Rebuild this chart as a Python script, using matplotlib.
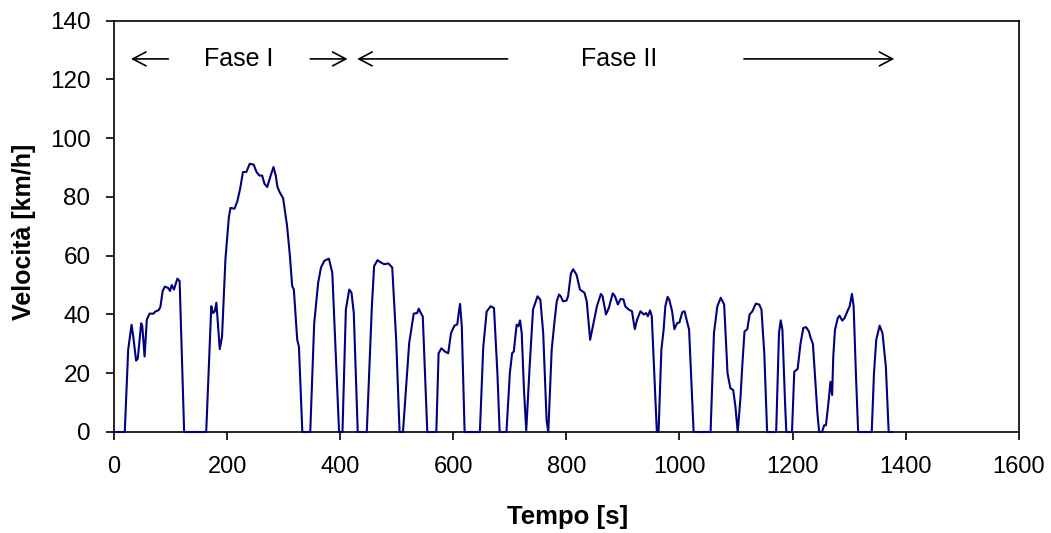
import matplotlib

matplotlib.use("Agg")
import matplotlib.pyplot as plt

# speed profile (time [s], speed [km/h])
tempo = [
    0, 19, 25, 31, 34, 39, 42, 48, 50, 54, 58, 63, 70, 73, 79, 82, 86, 90, 96, 99,
    102, 106, 112, 116, 124, 163, 172, 175, 178, 181, 187, 191, 197, 203, 206, 213,
    218, 223, 228, 234, 240, 247, 252, 257, 262, 266, 271, 277, 282, 286, 289, 293,
    299, 306, 311, 315, 318, 324, 327, 333, 347, 354, 361, 366, 372, 380, 386, 398,
    404, 410, 416, 420, 424, 431, 447, 456, 460, 466, 472, 478, 485, 492, 499, 505,
    511, 517, 522, 530, 536, 539, 543, 546, 554, 570, 574, 579, 585, 591, 596, 602,
    607, 610, 612, 615, 620, 647, 653, 659, 666, 672, 678, 682, 694, 700, 704, 707,
    712, 715, 718, 721, 725, 729, 735, 741, 749, 754, 759, 765, 768, 774, 779, 783,
    787, 790, 794, 800, 803, 808, 812, 818, 824, 832, 836, 842, 848, 854, 861, 864,
    870, 875, 882, 886, 891, 896, 901, 904, 910, 916, 921, 925, 931, 937, 941, 944,
    948, 951, 960, 963, 968, 972, 975, 979, 982, 987, 991, 996, 1000, 1005, 1009,
    1014, 1017, 1025, 1055, 1061, 1067, 1073, 1079, 1085, 1090, 1095, 1099, 1103,
    1108, 1111, 1115, 1120, 1124, 1129, 1135, 1141, 1145, 1150, 1155, 1171, 1176,
    1179, 1182, 1187, 1189, 1199, 1203, 1209, 1214, 1219, 1224, 1229, 1232, 1236,
    1244, 1247, 1252, 1256, 1259, 1264, 1267, 1270, 1272, 1275, 1280, 1283, 1288,
    1292, 1297, 1301, 1305, 1308, 1312, 1316, 1340, 1344, 1348, 1354, 1359, 1365,
    1370, 1376,
]
velocita = [
    0, 0, 28, 36.5, 32.5, 24.3, 25, 37, 36, 25.7, 38.3, 40.3, 40.3, 41, 41.5, 42.6,
    48, 49.5, 49, 48, 50, 48.5, 52.2, 51.4, 0, 0, 42.8, 40.5, 41, 44, 28.2, 32.5,
    58.8, 73, 76.3, 76, 78.5, 82.8, 88.5, 88.5, 91.3, 91, 88.5, 87.3, 87.3, 84.5,
    83.4, 87.3, 90.2, 87.3, 83.4, 81.6, 79.6, 70.2, 60, 49.7, 48.5, 31.4, 29, 0, 0,
    37, 50.8, 56, 58.3, 59, 54.2, 0, 0, 41.7, 48.5, 47.4, 40.5, 0, 0, 42.8, 56.5,
    58.5, 57.7, 57.1, 57.4, 56, 31.4, 0, 0, 16.6, 30.3, 40.3, 40.5, 42, 40.3, 39.4,
    0, 0, 26.8, 28.5, 27.4, 26.8, 33.7, 36.2, 36.6, 41.2, 43.6, 36, 0, 0, 29, 41,
    42.8, 42.2, 20, 0, 0, 20, 26.8, 27.4, 36.5, 36, 38, 33.7, 14.3, 0.5, 22.3, 41.7,
    46.2, 45, 33.7, 4, 0, 28, 37.7, 44.5, 46.8, 46.2, 44.5, 44.7, 46.2, 54, 55.4,
    53.5, 48.5, 47.4, 44.5, 31.4, 37.1, 42.8, 47, 46.2, 40, 42.2, 47.2, 46.2, 43.4,
    45.3, 45.1, 42.8, 41.7, 41.1, 35, 38.2, 41.1, 40, 40.5, 39.4, 41.4, 39.4, 0, 0,
    28, 34.9, 42.8, 46, 45, 41.1, 35, 37.1, 37.3, 40.8, 41.1, 37.1, 34.9, 0, 0,
    33.7, 42.8, 45.7, 43.4, 20, 14.9, 14.3, 8.6, 0, 12, 22.3, 34.2, 35, 40, 41.1,
    43.7, 43.4, 41.7, 26.8, 0, 0, 33.7, 38, 34.9, 8.6, 0, 0, 20.5, 21.5, 30, 35.4,
    35.7, 34.2, 32, 30, 6.3, 0, 0, 2.3, 2.3, 10.9, 17.1, 12.6, 25.7, 34.8, 38.8,
    39.6, 37.9, 38.8, 41.1, 42.8, 47, 42.8, 20, 0, 0, 20, 31.4, 36.2, 33.7, 22.3,
    0, 0,
]

plt.rcParams["font.family"] = ["Liberation Sans", "DejaVu Sans"]

fig = plt.figure(figsize=(10.51, 5.33), dpi=100)
ax = fig.add_axes([0.1085, 0.1895, 0.8608, 0.7716])

ax.plot(tempo, velocita, color="#000080", lw=1.5, zorder=3, clip_on=False)

ax.set_xlim(0, 1600)
ax.set_ylim(0, 140)
ax.set_xticks(range(0, 1601, 200))
ax.set_yticks(range(0, 141, 20))
ax.tick_params(axis="x", direction="out", length=6, width=1.2, pad=11, labelsize=17)
ax.tick_params(axis="y", direction="out", length=6, width=1.2, pad=11, labelsize=17.5)
for s in ax.spines.values():
    s.set_linewidth(1.2)
    s.set_color("black")

fig.text(568 / 1051, 1 - 517 / 533, "Tempo [s]", ha="center", va="center",
         fontsize=18.5, fontweight="bold")
fig.text(24 / 1051, 1 - 232 / 533, "Velocità [km/h]", ha="center", va="center",
         rotation=90, fontsize=18, fontweight="bold")

# phase markers
arrow = dict(arrowstyle="->,head_length=0.95,head_width=0.5", color="black", lw=1.2,
             shrinkA=0, shrinkB=0)
ax.annotate("", xy=(30, 127), xytext=(96, 127), arrowprops=arrow)
ax.annotate("", xy=(413, 127), xytext=(347, 127), arrowprops=arrow)
ax.annotate("", xy=(430, 127), xytext=(696, 127), arrowprops=arrow)
ax.annotate("", xy=(1380, 127), xytext=(1114, 127), arrowprops=arrow)
ax.text(220, 127, "Fase I", ha="center", va="center", fontsize=18)
ax.text(894, 127, "Fase II", ha="center", va="center", fontsize=18)

fig.savefig("out.png", dpi=100)
